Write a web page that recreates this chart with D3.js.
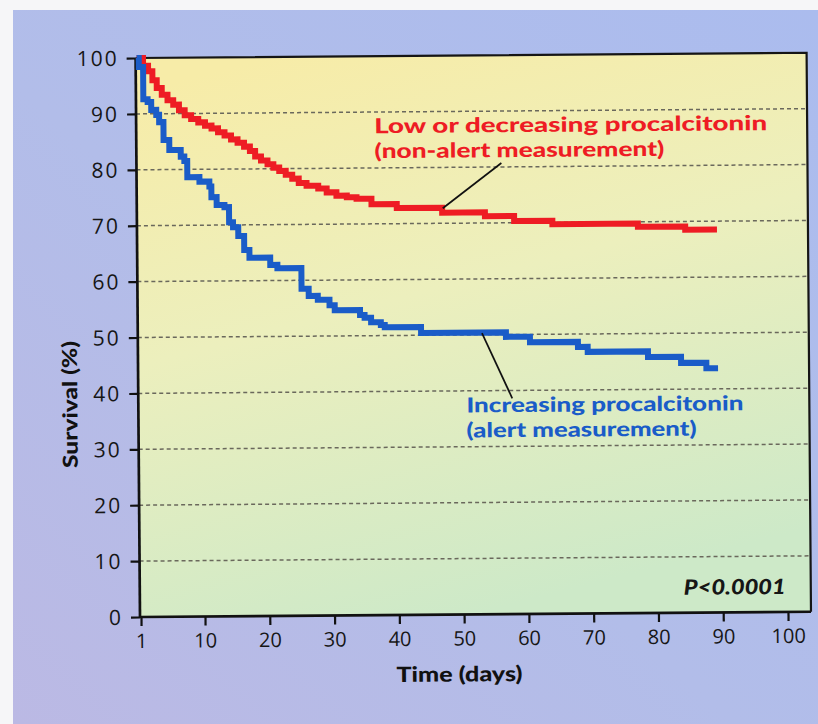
<!DOCTYPE html>
<html>
<head>
<meta charset="utf-8">
<script src="https://cdn.jsdelivr.net/npm/d3@7"></script>
<style>
  html, body { margin: 0; padding: 0; background: #ffffff; }
  svg { display: block; font-family: "Open Sans", "Noto Sans", sans-serif; }
</style>
</head>
<body>
<svg id="chart" width="818" height="724"></svg>
<script>
// Kaplan-Meier survival by procalcitonin course
const xTickValues = [1, 10, 20, 30, 40, 50, 60, 70, 80, 90, 100];
const yTickValues = [0, 10, 20, 30, 40, 50, 60, 70, 80, 90, 100];

// Low or decreasing procalcitonin (non-alert): step start day / survival %
const nonAlertDays = [1, 1.9, 2.6, 3.2, 3.8, 4.5, 5.3, 6.1, 6.9, 7.7, 8.6, 9.6, 10.6, 11.6, 12.6,
  13.6, 14.6, 15.6, 16.6, 17.5, 18.3, 19.2, 20.2, 21.1, 22.0, 23.0, 24.0, 25.0, 26.2, 28.0,
  29.3, 30.8, 32.4, 33.9, 36.2, 40.1, 47.1, 53.7, 58.2, 64.1, 77.3, 84.6, 89.5];
const nonAlertSurvival = [100, 98.6, 97.6, 96.0, 94.6, 93.4, 92.4, 91.6, 90.6, 89.7, 89.0, 88.4, 87.8, 87.3, 86.6,
  86.0, 85.3, 84.7, 84.0, 83.2, 82.2, 81.5, 80.8, 80.2, 79.6, 78.9, 78.2, 77.4, 76.9, 76.4,
  75.7, 75.1, 74.8, 74.5, 73.5, 72.8, 71.9, 71.2, 70.3, 69.7, 69.1, 68.5, 68.5];

// Increasing procalcitonin (alert): step start day / survival %
const alertDays = [1, 1.3, 1.9, 2.5, 3.0, 3.7, 4.1, 4.7, 5.5, 7.1, 7.6, 8.0, 9.7, 11.2, 11.5,
  12.3, 13.5, 14.2, 14.8, 15.6, 16.5, 17.3, 20.5, 21.6, 25.3, 26.4, 27.8, 29.6, 30.4, 34.3,
  35.0, 36.0, 37.5, 38.1, 43.7, 56.8, 60.5, 67.9, 69.4, 78.7, 83.8, 87.7, 89.5];
const alertSurvival = [100, 98.4, 92.6, 92.1, 90.7, 89.8, 88.5, 85.3, 83.5, 82.3, 81.5, 78.6, 77.8, 76.9, 75.0,
  73.6, 73.2, 70.5, 69.6, 68.0, 65.5, 64.1, 62.8, 62.2, 58.5, 57.2, 56.5, 55.5, 54.6, 53.7,
  53.2, 52.4, 51.9, 51.5, 50.4, 49.6, 48.6, 47.7, 46.8, 45.8, 44.7, 43.7, 43.7];

const nonAlertLabel = ["Low or decreasing procalcitonin", "(non-alert measurement)"];
const alertLabel = ["Increasing procalcitonin", "(alert measurement)"];
const pValueLabel = "P<0.0001";
const xTitle = "Time (days)";
const yTitle = "Survival (%)";

// leader lines: [day, survival] from curve to label
const nonAlertLeader = [[47.2, 72.7], [56.3, 80.7]];
const alertLeader = [[53.1, 50.3], [57.7, 38.6]];

const RED = "#ee1c24";
const BLUE = "#1a5cc8";
const LABEL_FONT = "Lato, 'Open Sans', sans-serif";

const svg = d3.select("#chart");
const W = 818, H = 724;
const margin = { left: 140, top: 58 };
const width = 671, height = 559;

const defs = svg.append("defs");
const outer = defs.append("linearGradient").attr("id", "outerBg")
  .attr("x1", "0").attr("y1", "1").attr("x2", "1").attr("y2", "0");
outer.append("stop").attr("offset", "0").attr("stop-color", "#bbb9e4");
outer.append("stop").attr("offset", "0.45").attr("stop-color", "#b2bde9");
outer.append("stop").attr("offset", "1").attr("stop-color", "#abbcee");

const inner = defs.append("linearGradient").attr("id", "plotBg")
  .attr("x1", "0.2").attr("y1", "0").attr("x2", "0.5").attr("y2", "1");
inner.append("stop").attr("offset", "0").attr("stop-color", "#f7eca8");
inner.append("stop").attr("offset", "0.45").attr("stop-color", "#ecefbd");
inner.append("stop").attr("offset", "1").attr("stop-color", "#cde9c8");

// page background with light paper edge
svg.append("rect").attr("width", W).attr("height", H).attr("fill", "#f6f6f8");
svg.append("rect").attr("x", 13).attr("y", 10).attr("width", W - 13).attr("height", H - 10)
  .attr("fill", "url(#outerBg)");

const root = svg.append("g")
  .attr("transform", `rotate(-0.45, ${margin.left}, ${margin.top + height})`);
const g = root.append("g").attr("transform", `translate(${margin.left},${margin.top})`);

const x = d3.scaleLinear().domain([1, 10, 100]).range([1, 65, 648]);
const y = d3.scaleLinear().domain([0, 100]).range([height, 0]);

g.append("rect").attr("width", width).attr("height", height).attr("fill", "url(#plotBg)");

// dashed reference lines
g.append("g").selectAll("line")
  .data(yTickValues.filter(v => v > 0 && v < 100))
  .join("line")
  .attr("x1", 0).attr("x2", width)
  .attr("y1", d => y(d)).attr("y2", d => y(d))
  .attr("stroke", "#6a685c").attr("stroke-width", 1.5)
  .attr("stroke-dasharray", "4,3");

// frame top and right
g.append("path")
  .attr("d", `M0,${y(100)}H${width}V${height}`)
  .attr("fill", "none").attr("stroke", "#151515").attr("stroke-width", 2.2);

const yAxis = g.append("g")
  .call(d3.axisLeft(y).tickValues(yTickValues).tickSize(9).tickSizeOuter(0).tickPadding(8));
const xAxis = g.append("g").attr("transform", `translate(0,${height})`)
  .call(d3.axisBottom(x).tickValues(xTickValues).tickFormat(d3.format("d"))
    .tickSize(9).tickSizeOuter(0).tickPadding(6));
xAxis.select(".domain").attr("d", `M0,0H${width}`);
yAxis.select(".domain").attr("d", `M0,${height}V0`);

[xAxis, yAxis].forEach(a => {
  a.select(".domain").attr("stroke", "#111").attr("stroke-width", 2.7);
  a.selectAll(".tick line").attr("stroke", "#111").attr("stroke-width", 2.2);
  a.selectAll(".tick text").attr("fill", "#161616")
    .attr("font-family", "'Open Sans', sans-serif").attr("font-weight", 500);
});
yAxis.selectAll(".tick text").attr("font-size", 21)
  .attr("letter-spacing", "2px").attr("dy", "0.34em");
xAxis.selectAll(".tick text").attr("font-size", 20).attr("dy", "0.8em");

// survival curves
const toPoints = (ds, vs) => ds.map((d, i) => [d, vs[i]]);
const stepLine = d3.line().x(d => x(d[0])).y(d => y(d[1])).curve(d3.curveStepAfter);

g.append("path")
  .datum(toPoints(nonAlertDays, nonAlertSurvival))
  .attr("d", stepLine)
  .attr("fill", "none").attr("stroke", RED).attr("stroke-width", 6)
  .attr("stroke-linejoin", "miter");

g.append("path")
  .datum(toPoints(alertDays, alertSurvival))
  .attr("d", stepLine)
  .attr("fill", "none").attr("stroke", BLUE).attr("stroke-width", 6)
  .attr("stroke-linejoin", "miter");

// leader lines
[nonAlertLeader, alertLeader].forEach(seg => {
  g.append("line")
    .attr("x1", x(seg[0][0])).attr("y1", y(seg[0][1]))
    .attr("x2", x(seg[1][0])).attr("y2", y(seg[1][1]))
    .attr("stroke", "#111").attr("stroke-width", 1.7);
});

// series labels
function label(lines, x0, y0, fill, lengths) {
  lines.forEach((t, i) => {
    root.append("text")
      .attr("x", x0).attr("y", y0 + i * 25)
      .attr("fill", fill).attr("font-size", 20.5).attr("font-weight", 900)
      .attr("font-family", LABEL_FONT)
      .attr("textLength", lengths[i]).attr("lengthAdjust", "spacingAndGlyphs")
      .text(t);
  });
}
label(nonAlertLabel, 378, 135, RED, [393, 290]);
label(alertLabel, 468, 415, BLUE, [277, 230]);

root.append("text")
  .attr("x", 786).attr("y", 599)
  .attr("text-anchor", "end")
  .attr("font-family", LABEL_FONT)
  .attr("font-size", 21).attr("font-weight", 900).attr("font-style", "italic")
  .attr("fill", "#161616")
  .attr("textLength", 102).attr("lengthAdjust", "spacingAndGlyphs")
  .text(pValueLabel);

root.append("text")
  .attr("x", 459).attr("y", 684)
  .attr("text-anchor", "middle")
  .attr("font-family", LABEL_FONT)
  .attr("font-size", 21).attr("font-weight", 900).attr("fill", "#111")
  .attr("textLength", 126).attr("lengthAdjust", "spacingAndGlyphs")
  .text(xTitle);

root.append("text")
  .attr("transform", "translate(79,404) rotate(-90)")
  .attr("text-anchor", "middle")
  .attr("font-family", LABEL_FONT)
  .attr("font-size", 20.5).attr("font-weight", 900).attr("fill", "#111")
  .attr("textLength", 127).attr("lengthAdjust", "spacingAndGlyphs")
  .text(yTitle);
</script>
</body>
</html>
